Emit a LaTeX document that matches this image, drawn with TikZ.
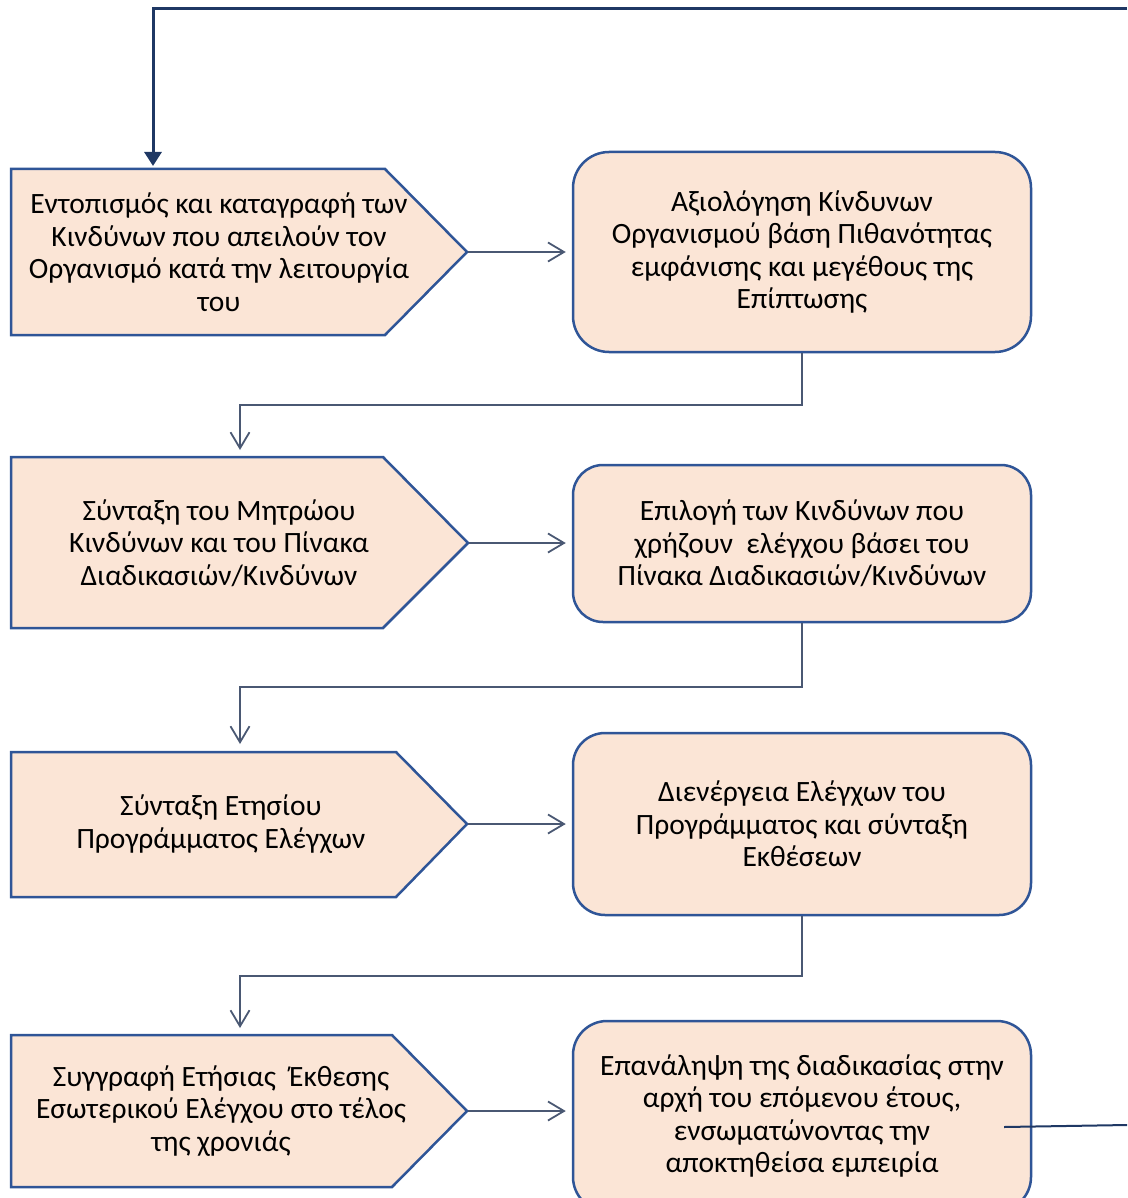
\documentclass[tikz,border=0pt]{standalone}
\usepackage{fontspec}
\setmainfont{Carlito}
\usetikzlibrary{arrows.meta,calc}
\definecolor{boxfill}{HTML}{FBE5D6}
\definecolor{boxline}{HTML}{2F5597}
\definecolor{conncol}{HTML}{4A5873}
\definecolor{navy}{HTML}{1F3864}
\begin{document}
\begin{tikzpicture}[x=1pt,y=-1pt,
  penta/.style={fill=boxfill,draw=boxline,line width=2.5pt},
  txt/.style={align=center,inner sep=0pt,font=\fontsize{29.5}{32.5}\selectfont},
  rbox/.style={txt,fill=boxfill,draw=boxline,line width=2.5pt,rounded corners=36pt,minimum width=458pt},
  arr/.style={draw=conncol,line width=1.8pt,-{Straight Barb[length=16pt,width=19pt]}},
]
\useasboundingbox (0,0) rectangle (1127,1198);

% pentagons
\draw[penta] (11,169) -- (385,169) -- (467,252) -- (385,335) -- (11,335) -- cycle;
\draw[penta] (11,457) -- (383,457) -- (468,543) -- (383,628) -- (11,628) -- cycle;
\draw[penta] (11,752) -- (396,752) -- (467,824) -- (396,897) -- (11,897) -- cycle;
\draw[penta] (11,1035) -- (392,1035) -- (467,1111) -- (392,1187) -- (11,1187) -- cycle;

\coordinate (a1) at (468,252);
\coordinate (a3) at (469,543);
\coordinate (a5) at (468,824);
\coordinate (a7) at (468,1111);
\coordinate (top1) at (153,166);
\coordinate (top3) at (240,450);
\coordinate (top5) at (240,744);
\coordinate (top7) at (240,1028);

\node[txt] (t1) at (219,252) {Εντοπισμός και καταγραφή των\\Κινδύνων που απειλούν τον\\Οργανισμό κατά την λειτουργία\\του};
\node[txt] (t3) at (219,543) {Σύνταξη του Μητρώου\\Κινδύνων και του Πίνακα\\Διαδικασιών/Κινδύνων};
\node[txt] (t5) at (221,824) {Σύνταξη Ετησίου\\Προγράμματος Ελέγχων};
\node[txt] (t7) at (221,1111) {Συγγραφή Ετήσιας\ \ Έκθεσης\\Εσωτερικού Ελέγχου στο τέλος\\της χρονιάς};

% rounded boxes
\node[rbox,minimum height=200pt] (b2) at (802,252) {Αξιολόγηση Κίνδυνων\\Οργανισμού βάση Πιθανότητας\\εμφάνισης και μεγέθους της\\Επίπτωσης};
\node[rbox,minimum height=157pt,rounded corners=30pt] (b4) at (802,543.5) {Επιλογή των Κινδύνων που\\χρήζουν\ \ ελέγχου βάσει του\\Πίνακα Διαδικασιών/Κινδύνων};
\node[rbox,minimum height=182pt,rounded corners=32pt] (b6) at (802,824) {Διενέργεια Ελέγχων του\\Προγράμματος και σύνταξη\\Εκθέσεων};
\node[rbox,minimum height=190pt,rounded corners=34pt] (b8) at (802,1116) {Επανάληψη της διαδικασίας στην\\αρχή του επόμενου έτους,\\ενσωματώνοντας την\\αποκτηθείσα εμπειρία};

% horizontal arrows
\draw[arr,shorten >=6pt] (a1) -- (b2.west|-a1);
\draw[arr,shorten >=6pt] (a3) -- (b4.west|-a3);
\draw[arr,shorten >=6pt] (a5) -- (b6.west|-a5);
\draw[arr,shorten >=6pt] (a7) -- (b8.west|-a7);

% down connectors
\draw[arr] (b2.south) -- ++(0,52) -| (top3);
\draw[arr] (b4.south) -- ++(0,64) -| (top5);
\draw[arr] (b6.south) -- ++(0,60) -| (top7);

% feedback loop
\coordinate (fbR) at (1127,9);
\coordinate (fbB) at (1127,1125);
\coordinate (s8) at (1004,1127);
\draw[navy,line width=2pt] (s8) -- (fbB);
\draw[navy,line width=3pt,-{Triangle[length=14pt,width=17pt]}] (fbR) -- (top1|-fbR) -- (top1);
\end{tikzpicture}
\end{document}
